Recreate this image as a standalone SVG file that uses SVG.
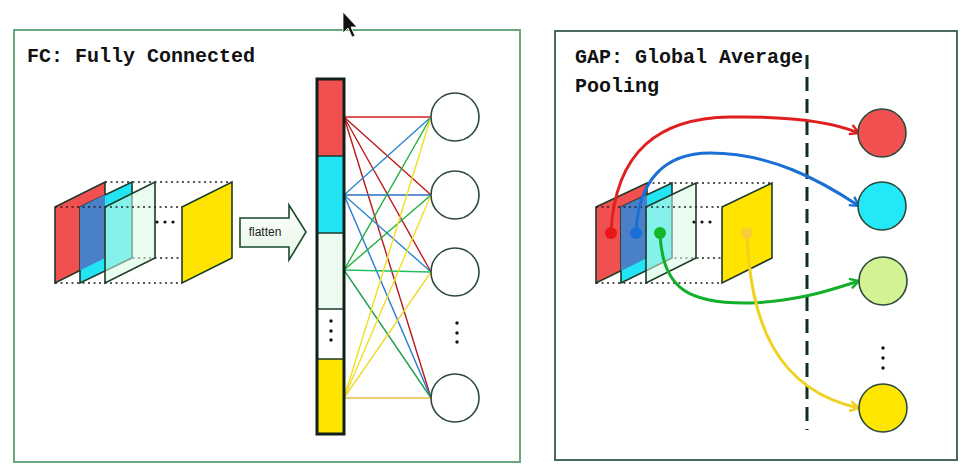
<svg xmlns="http://www.w3.org/2000/svg" width="973" height="475" viewBox="0 0 973 475">
<style>
.title{font-family:"Liberation Mono","DejaVu Sans Mono",monospace;font-weight:bold;font-size:20px;fill:#111}
.dotline{stroke:#222;stroke-width:1.6;stroke-dasharray:2 3.5;fill:none}
.plane{stroke:#1e3a28;stroke-width:1.6}
.node{stroke:#2c4a3a;stroke-width:1.6}
.dot{fill:#111}
.fc line{stroke-width:1.4}
.gap path{fill:none;stroke-width:3}
</style>
<defs>
<marker id="mr" viewBox="0 0 12 12" refX="10" refY="6" markerWidth="12" markerHeight="12" markerUnits="userSpaceOnUse" orient="auto"><path d="M1,1 L10,6 L1,11" fill="none" stroke="#e02020" stroke-width="2.4"/></marker>
<marker id="mb" viewBox="0 0 12 12" refX="10" refY="6" markerWidth="12" markerHeight="12" markerUnits="userSpaceOnUse" orient="auto"><path d="M1,1 L10,6 L1,11" fill="none" stroke="#1a6fd6" stroke-width="2.4"/></marker>
<marker id="mg" viewBox="0 0 12 12" refX="10" refY="6" markerWidth="12" markerHeight="12" markerUnits="userSpaceOnUse" orient="auto"><path d="M1,1 L10,6 L1,11" fill="none" stroke="#12b02a" stroke-width="2.4"/></marker>
<marker id="my" viewBox="0 0 12 12" refX="10" refY="6" markerWidth="12" markerHeight="12" markerUnits="userSpaceOnUse" orient="auto"><path d="M1,1 L10,6 L1,11" fill="none" stroke="#f0d020" stroke-width="2.4"/></marker>
<linearGradient id="flat" x1="0" y1="0" x2="0" y2="1"><stop offset="0" stop-color="#ffffff"/><stop offset="1" stop-color="#e6f6e6"/></linearGradient>
</defs>
<rect width="973" height="475" fill="#ffffff"/>

<!-- LEFT PANEL -->
<g id="fc-panel">
<rect x="14" y="30" width="506" height="432" fill="none" stroke="#6aa67a" stroke-width="2"/>
<text class="title" x="27" y="62">FC: Fully Connected</text>
</g>

<g id="fc-feature-maps">
<line class="dotline" x1="105" y1="182" x2="232" y2="182"/>
<line class="dotline" x1="105" y1="258" x2="232" y2="258"/>
<polygon class="plane" points="55,207 105,182 105,258 55,283" fill="#f05050"/>
<polygon class="plane" points="80,207 132,182 132,258 80,283" fill="#22e4f4" stroke="#1e4a48"/>
<polygon points="80,207 105,194.5 105,258 80,270.5" fill="#4a80c8"/>
<polygon class="plane" points="105,207 155,182 155,258 105,283" fill="#d6fbe2" fill-opacity="0.55" stroke="#1e4a30"/>
<line class="dotline" x1="55" y1="207" x2="182" y2="207"/>
<line class="dotline" x1="55" y1="283" x2="182" y2="283"/>
<circle class="dot" cx="157" cy="222" r="1.6"/><circle class="dot" cx="165" cy="222" r="1.6"/><circle class="dot" cx="173" cy="222" r="1.6"/>
<polygon class="plane" points="182,207 232,182 232,258 182,283" fill="#ffe400"/>
</g>

<g id="flatten">
<path d="M240,218 H289 V205 L306,232 L289,260 V247 H240 Z" fill="url(#flat)" stroke="#1a4a2a" stroke-width="1.6"/>
<text x="265" y="236" text-anchor="middle" font-family="Liberation Sans, Arial, sans-serif" font-size="12" fill="#222">flatten</text>
</g>

<g id="fc-connectors" class="fc">
<line x1="344" y1="117" x2="431" y2="117" stroke="#d82020"/>
<line x1="344" y1="117" x2="431" y2="195" stroke="#c01818"/>
<line x1="344" y1="117" x2="431" y2="272" stroke="#c01818"/>
<line x1="344" y1="117" x2="431" y2="398" stroke="#b81818"/>
<line x1="344" y1="195" x2="431" y2="117" stroke="#2a88d0"/>
<line x1="344" y1="195" x2="431" y2="195" stroke="#2a70c0"/>
<line x1="344" y1="195" x2="431" y2="272" stroke="#2a88d0"/>
<line x1="344" y1="195" x2="431" y2="398" stroke="#2a78d0"/>
<line x1="344" y1="270" x2="431" y2="117" stroke="#20b040"/>
<line x1="344" y1="270" x2="431" y2="195" stroke="#20b040"/>
<line x1="344" y1="270" x2="431" y2="272" stroke="#20c060"/>
<line x1="344" y1="270" x2="431" y2="398" stroke="#20a050"/>
<line x1="344" y1="398" x2="431" y2="117" stroke="#f0e020"/>
<line x1="344" y1="398" x2="431" y2="195" stroke="#f0e020"/>
<line x1="344" y1="398" x2="431" y2="272" stroke="#f0d830"/>
<line x1="344" y1="398" x2="431" y2="398" stroke="#e8c040"/>
</g>

<g id="fc-vector">
<rect x="317" y="79" width="27" height="77" fill="#f05050"/>
<rect x="317" y="156" width="27" height="77" fill="#22e4f4"/>
<rect x="317" y="233" width="27" height="76" fill="#eefbf0"/>
<rect x="317" y="309" width="27" height="50" fill="#ffffff"/>
<rect x="317" y="359" width="27" height="75" fill="#ffe400"/>
<line x1="317" y1="156" x2="344" y2="156" stroke="#1e3a28" stroke-width="1.5"/>
<line x1="317" y1="233" x2="344" y2="233" stroke="#1e3a28" stroke-width="1.5"/>
<line x1="317" y1="309" x2="344" y2="309" stroke="#1e3a28" stroke-width="1.5"/>
<line x1="317" y1="359" x2="344" y2="359" stroke="#1e3a28" stroke-width="1.5"/>
<rect x="317" y="79" width="27" height="355" fill="none" stroke="#10201a" stroke-width="3"/>
<circle class="dot" cx="331" cy="321" r="1.7"/><circle class="dot" cx="331" cy="331" r="1.7"/><circle class="dot" cx="331" cy="340" r="1.7"/>
</g>

<g id="fc-node-1"><circle class="node" cx="455" cy="117" r="24" fill="#fff"/></g>
<g id="fc-node-2"><circle class="node" cx="455" cy="195" r="24" fill="#fff"/></g>
<g id="fc-node-3"><circle class="node" cx="455" cy="272" r="24" fill="#fff"/></g>
<g id="fc-node-4"><circle class="node" cx="455" cy="398" r="24" fill="#fff"/></g>
<g id="fc-node-dots"><circle class="dot" cx="457" cy="323" r="1.7"/><circle class="dot" cx="457" cy="333" r="1.7"/><circle class="dot" cx="457" cy="342" r="1.7"/></g>

<!-- RIGHT PANEL -->
<g id="gap-panel">
<rect x="555" y="31" width="402" height="429" fill="none" stroke="#4a6a5a" stroke-width="2"/>
<text class="title" x="575" y="63">GAP: Global Average</text>
<text class="title" x="575" y="92">Pooling</text>
<line x1="807" y1="55" x2="807" y2="430" stroke="#10301e" stroke-width="3" stroke-dasharray="14 8"/>
</g>

<g id="gap-feature-maps">
<line class="dotline" x1="647" y1="183" x2="772" y2="183"/>
<line class="dotline" x1="647" y1="258" x2="772" y2="258"/>
<polygon class="plane" points="596,207 647,183 647,258 596,283" fill="#f05050"/>
<polygon class="plane" points="621,207 672,183 672,258 621,283" fill="#22e4f4" stroke="#1e4a48"/>
<polygon points="621,207 647,195 647,258 621,271" fill="#4a80c8"/>
<polygon class="plane" points="646,207 696,183 696,258 646,283" fill="#d6fbe2" fill-opacity="0.55" stroke="#1e4a30"/>
<line class="dotline" x1="596" y1="207" x2="722" y2="207"/>
<line class="dotline" x1="596" y1="283" x2="722" y2="283"/>
<circle class="dot" cx="694" cy="222" r="1.6"/><circle class="dot" cx="702" cy="222" r="1.6"/><circle class="dot" cx="710" cy="222" r="1.6"/>
<polygon class="plane" points="722,207 772,183 772,258 722,283" fill="#ffe400"/>
</g>

<g id="gap-connectors" class="gap">
<path d="M611,233 C615,150 660,118 730,117 C790,116 830,121 859,133" stroke="#e02020" marker-end="url(#mr)"/>
<path d="M636,233 C638,180 665,153 710,153 C770,153 820,180 859,206" stroke="#1a6fd6" marker-end="url(#mb)"/>
<path d="M660,233 C662,290 690,304 750,303 C800,301 830,290 859,281" stroke="#12b02a" marker-end="url(#mg)"/>
<path d="M747,233 C750,320 775,390 859,408" stroke="#f0d020" marker-end="url(#my)"/>
<circle cx="611" cy="233" r="6" fill="#e81818"/>
<circle cx="636" cy="233" r="6" fill="#1a6fd6"/>
<circle cx="660" cy="233" r="6" fill="#12b82a"/>
<circle cx="747" cy="233" r="6" fill="#f8c840" fill-opacity="0.8"/>
</g>

<g id="gap-node-red"><circle class="node" cx="882" cy="133" r="24" fill="#f05050"/></g>
<g id="gap-node-cyan"><circle class="node" cx="882" cy="206" r="24" fill="#22e8f8"/></g>
<g id="gap-node-green"><circle class="node" cx="883" cy="281" r="24" fill="#d2f294"/></g>
<g id="gap-node-yellow"><circle class="node" cx="883" cy="408" r="24" fill="#ffe600"/></g>
<g id="gap-node-dots"><circle class="dot" cx="883" cy="348" r="1.7"/><circle class="dot" cx="883" cy="358" r="1.7"/><circle class="dot" cx="883" cy="368" r="1.7"/></g>

<g id="cursor">
<polygon points="343,12 343,33 348,28 352,37 355,36 351,27 357,27" fill="#111" stroke="#fff" stroke-width="0.8"/>
</g>
</svg>
